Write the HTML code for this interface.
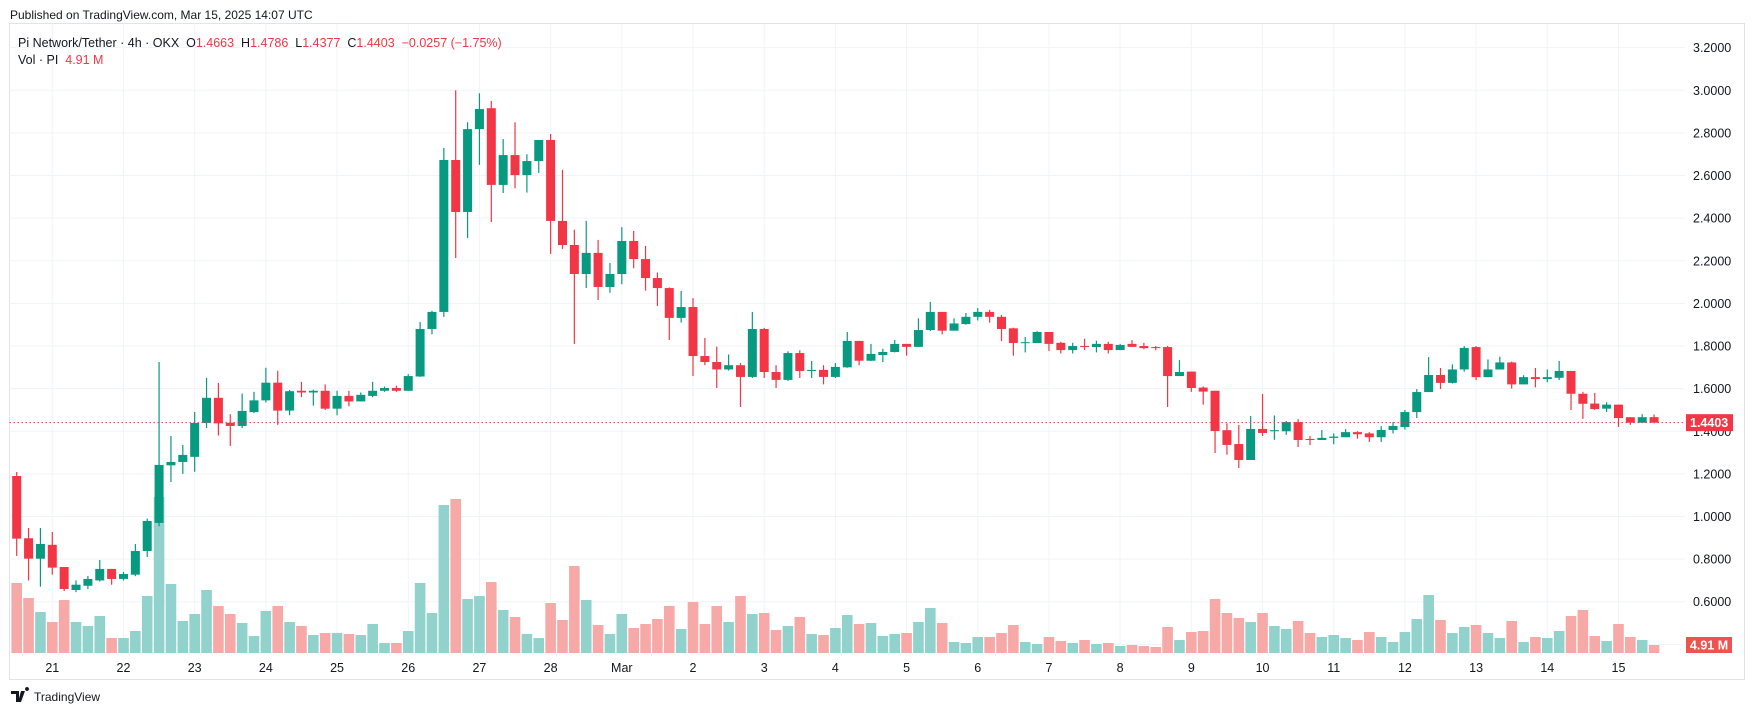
<!DOCTYPE html>
<html><head><meta charset="utf-8"><style>
html,body{margin:0;padding:0;background:#fff;}
svg{display:block;font-family:"Liberation Sans",sans-serif;}
.pre{white-space:pre;}
</style></head><body>
<svg id="chart" width="1755" height="716" viewBox="0 0 1755 716" xmlns="http://www.w3.org/2000/svg">
<text x="10" y="19" font-size="12" fill="#131722">Published on TradingView.com, Mar 15, 2025 14:07 UTC</text>
<rect x="9.5" y="23.5" width="1735" height="656" fill="none" stroke="#e0e3eb"/>
<g id="grid"></g>
<g id="vol"></g>
<g id="candles"></g>
<g id="yaxis"></g>
<g id="xaxis"></g>
<g>
<text class="pre" x="18" y="47" font-size="12.5" fill="#131722">Pi Network/Tether · 4h · OKX  O<tspan fill="#F23645">1.4663</tspan>  H<tspan fill="#F23645">1.4786</tspan>  L<tspan fill="#F23645">1.4377</tspan>  C<tspan fill="#F23645">1.4403</tspan>  <tspan fill="#F23645">−0.0257 (−1.75%)</tspan></text>
<text class="pre" x="18" y="64" font-size="12.5" fill="#131722">Vol · PI  <tspan fill="#F23645">4.91 M</tspan></text>
</g>
<g>
<path d="M11 691h8v11h-3v-8h-5z M21 691h4l-4 11h-3z M27 691a2 2 0 1 1 0.01 0z" fill="#131722"/>
<text x="34" y="701" font-size="12" fill="#131722">TradingView</text>
</g>
</svg>
<script>
const opens=[1.19,0.898,0.802,0.867,0.763,0.655,0.675,0.70,0.754,0.707,0.727,0.838,0.97,1.24,1.256,1.28,1.439,1.557,1.44,1.425,1.49,1.545,1.628,1.497,1.59,1.582,1.59,1.506,1.566,1.54,1.566,1.59,1.603,1.59,1.657,1.88,1.96,2.673,2.429,2.818,2.916,2.556,2.696,2.602,2.668,2.767,2.387,2.274,2.138,2.237,2.077,2.138,2.293,2.208,2.119,2.072,1.932,1.983,1.753,1.725,1.69,1.71,1.655,1.88,1.678,1.641,1.767,1.683,1.688,1.655,1.70,1.824,1.731,1.758,1.772,1.81,1.796,1.875,1.96,1.872,1.903,1.937,1.96,1.937,1.883,1.814,1.814,1.866,1.815,1.781,1.80,1.795,1.81,1.781,1.81,1.80,1.795,1.795,1.659,1.68,1.605,1.59,1.405,1.34,1.265,1.411,1.40,1.40,1.443,1.364,1.359,1.369,1.372,1.396,1.39,1.372,1.406,1.42,1.49,1.584,1.664,1.627,1.69,1.795,1.654,1.69,1.723,1.62,1.654,1.645,1.651,1.683,1.576,1.53,1.506,1.525,1.466,1.44,1.4663];
const highs=[1.209,0.946,0.946,0.927,0.763,0.70,0.721,0.796,0.754,0.74,0.871,0.99,1.725,1.378,1.336,1.49,1.651,1.627,1.48,1.577,1.585,1.698,1.684,1.594,1.632,1.595,1.62,1.59,1.59,1.582,1.632,1.61,1.614,1.668,1.913,1.965,2.73,3.0,2.85,2.986,2.95,2.771,2.85,2.70,2.767,2.795,2.627,2.346,2.387,2.298,2.19,2.358,2.34,2.27,2.145,2.075,2.058,2.025,1.838,1.797,1.76,1.72,1.96,1.885,1.71,1.775,1.78,1.73,1.71,1.72,1.866,1.824,1.81,1.787,1.828,1.81,1.93,2.007,1.96,1.93,1.955,1.978,1.97,1.946,1.886,1.842,1.87,1.866,1.82,1.815,1.834,1.825,1.82,1.81,1.828,1.815,1.80,1.80,1.734,1.68,1.61,1.59,1.437,1.43,1.472,1.575,1.474,1.448,1.457,1.378,1.406,1.39,1.41,1.40,1.396,1.424,1.443,1.50,1.598,1.748,1.697,1.714,1.80,1.80,1.737,1.75,1.727,1.663,1.697,1.69,1.73,1.683,1.585,1.58,1.536,1.525,1.466,1.48,1.4786];
const lows=[0.815,0.70,0.671,0.727,0.65,0.645,0.66,0.695,0.68,0.70,0.72,0.81,0.954,1.162,1.20,1.21,1.415,1.38,1.331,1.415,1.485,1.535,1.43,1.475,1.56,1.52,1.50,1.475,1.517,1.54,1.56,1.585,1.585,1.59,1.655,1.855,1.937,2.213,2.307,2.65,2.382,2.518,2.54,2.52,2.612,2.232,2.255,1.81,2.072,2.016,2.05,2.09,2.165,2.06,1.988,1.828,1.91,1.659,1.71,1.603,1.685,1.514,1.65,1.65,1.603,1.636,1.65,1.65,1.62,1.65,1.698,1.71,1.73,1.725,1.77,1.755,1.796,1.87,1.855,1.872,1.90,1.92,1.91,1.823,1.755,1.77,1.814,1.777,1.765,1.765,1.781,1.77,1.765,1.781,1.796,1.785,1.78,1.514,1.659,1.585,1.525,1.298,1.29,1.228,1.265,1.378,1.36,1.383,1.326,1.335,1.359,1.339,1.372,1.365,1.35,1.35,1.39,1.408,1.462,1.584,1.598,1.624,1.68,1.64,1.654,1.69,1.60,1.62,1.606,1.63,1.64,1.50,1.458,1.50,1.49,1.42,1.43,1.44,1.4377];
const closes=[0.896,0.802,0.871,0.760,0.66,0.68,0.707,0.754,0.707,0.730,0.838,0.979,1.242,1.256,1.289,1.439,1.557,1.437,1.425,1.495,1.545,1.628,1.497,1.588,1.582,1.59,1.506,1.566,1.54,1.571,1.59,1.603,1.59,1.659,1.88,1.96,2.673,2.429,2.818,2.912,2.556,2.696,2.602,2.668,2.767,2.387,2.274,2.138,2.237,2.077,2.138,2.293,2.208,2.119,2.072,1.932,1.983,1.753,1.725,1.69,1.71,1.655,1.88,1.678,1.641,1.767,1.683,1.688,1.655,1.702,1.824,1.731,1.763,1.772,1.81,1.796,1.875,1.96,1.872,1.906,1.937,1.96,1.937,1.88,1.814,1.818,1.866,1.81,1.781,1.80,1.795,1.81,1.781,1.805,1.796,1.79,1.791,1.659,1.678,1.603,1.586,1.401,1.336,1.265,1.411,1.392,1.405,1.443,1.359,1.359,1.369,1.375,1.396,1.386,1.372,1.406,1.425,1.49,1.584,1.664,1.627,1.69,1.791,1.654,1.69,1.723,1.62,1.654,1.645,1.654,1.683,1.576,1.529,1.504,1.525,1.462,1.44,1.466,1.4403];
const volumes=[70,55,41,31,53,31,27,37,15,15,22,57,156,69,32,39,63,47,39,30,17,42,47,31,27,18,20,20,19,18,29,10,10,22,70,40,148,154,54,57,71,43,36,19,15,50,33,87,53,28,19,39,25,29,34,47,24,51,29,47,31,57,39,40,23,27,36,19,18,25,38,29,30,17,19,20,31,45,30,11,10,16,16,20,28,11,9,16,12,10,13,9,10,7,8,7,6,26,13,21,22,54,40,35,31,40,27,24,32,20,16,18,15,13,21,16,11,21,34,58,33,20,26,28,20,15,32,11,16,15,22,37,43,17,12,29,16,13,8];
const dayLabels=["21","22","23","24","25","26","27","28","Mar","2","3","4","5","6","7","8","9","10","11","12","13","14","15"];
const priceTicks=[3.2,3.0,2.8,2.6,2.4,2.2,2.0,1.8,1.6,1.4,1.2,1.0,0.8,0.6,0.4];
const lastPrice=1.4403;
const lastVolLabel="4.91 M";

const NS="http://www.w3.org/2000/svg";
const X0=16.7, DX=11.865, PLOT_L=9.5, PLOT_R=1685, PLOT_T=23.5, VOL_BASE=653;
function x(i){return X0+DX*i;}
function y(p){return 90.3+(3-p)*213.1;}
function yv(v){return VOL_BASE-v;}
function mk(tag,attrs,parent){const e=document.createElementNS(NS,tag);for(const k in attrs)e.setAttribute(k,attrs[k]);parent.appendChild(e);return e;}
const G=document.getElementById('grid'),V=document.getElementById('vol'),C=document.getElementById('candles'),YA=document.getElementById('yaxis'),XA=document.getElementById('xaxis');
const GREEN="#089981",RED="#F23645";

priceTicks.forEach(p=>{
  const l=mk('line',{x1:PLOT_L,x2:PLOT_R,y1:y(p),y2:y(p),stroke:'#f0f3fa','stroke-width':1},G);
  
  
  if(p>=0.6){
    const t=mk('text',{x:1693,y:y(p)+4.5,'font-size':12.5,fill:'#131722'},YA);
    t.textContent=p.toFixed(4);
    
    
  }
});
dayLabels.forEach((d,k)=>{
  const xi=x(3+6*k);
  const l=mk('line',{x1:xi,x2:xi,y1:PLOT_T,y2:VOL_BASE,stroke:'#f0f3fa','stroke-width':1},G);
  
  
  const t=mk('text',{x:xi,y:672,'font-size':12.5,fill:'#131722','text-anchor':'middle'},XA);
  t.textContent=d;
  
  
});
volumes.forEach((v,i)=>{
  const up=closes[i]>=opens[i];
  const r=mk('rect',{x:x(i)-5.3,y:yv(v),width:10.6,height:VOL_BASE-yv(v),fill:up?'#92d2cc':'#f7a9a7'},V);
  
  
});
opens.forEach((o,i)=>{
  const c=closes[i],up=c>=o,col=up?GREEN:RED;
  const g=mk('g',{},C);
  
  
  mk('line',{x1:x(i),x2:x(i),y1:y(highs[i]),y2:y(lows[i]),stroke:col,'stroke-width':1.2},g);
  const top=y(Math.max(o,c)),bot=y(Math.min(o,c));
  mk('rect',{x:x(i)-4.5,y:top,width:9,height:Math.max(1,bot-top),fill:col},g);
});
const pl=mk('line',{x1:PLOT_L,x2:PLOT_R,y1:y(lastPrice),y2:y(lastPrice),stroke:RED,'stroke-width':1,'stroke-dasharray':'1.5 2.5'},C);


const pb=mk('rect',{x:1686,y:y(lastPrice)-8.5,width:47,height:17,fill:RED},YA);


const pt=mk('text',{x:1690,y:y(lastPrice)+4.5,'font-size':12.5,fill:'#fff','font-weight':'bold'},YA);
pt.textContent=lastPrice.toFixed(4);


const vb=mk('rect',{x:1686,y:637,width:46,height:16,fill:'#ef5350'},YA);


const vt=mk('text',{x:1709,y:649.5,'font-size':12.5,fill:'#fff','font-weight':'bold','text-anchor':'middle'},YA);
vt.textContent=lastVolLabel;


</script>
</body></html>
